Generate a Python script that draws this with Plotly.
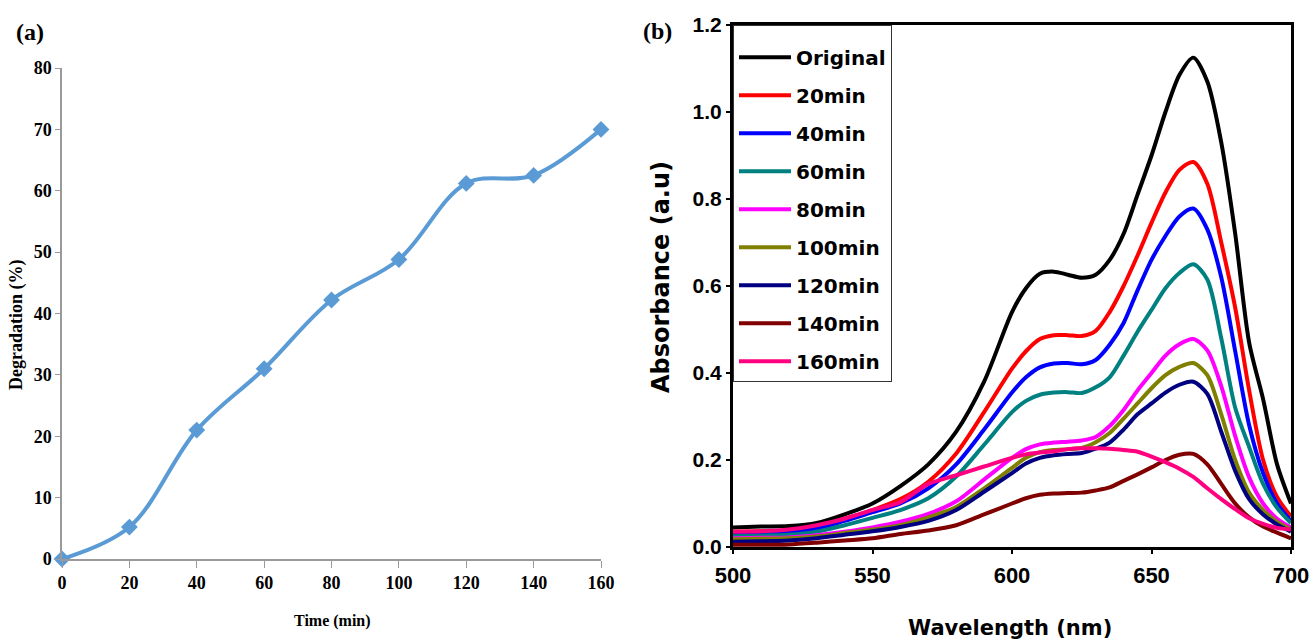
import plotly.graph_objects as go

W, H = 1311, 641

# ---- (a) degradation vs time ----
time_min = [0, 20, 40, 60, 80, 100, 120, 140, 160]
degradation = [0, 5.2, 21.0, 31.0, 42.2, 48.8, 61.2, 62.5, 70.0]

# ---- (b) absorption spectra ----
wavelength = [500, 510, 520, 530, 540, 550, 560, 570, 580, 590, 600, 605, 610, 615,
              620, 625, 630, 635, 640, 645, 650, 655, 660, 665, 670, 675, 680, 685,
              690, 695, 700]

abs_original = [0.045, 0.047, 0.048, 0.055, 0.075, 0.100, 0.140, 0.190, 0.265, 0.380,
                0.540, 0.595, 0.628, 0.633, 0.626, 0.619, 0.626, 0.660, 0.720, 0.810,
                0.900, 1.000, 1.085, 1.125, 1.070, 0.930, 0.720, 0.470, 0.340, 0.190,
                0.100]
abs_20 = [0.035, 0.036, 0.038, 0.045, 0.065, 0.085, 0.110, 0.150, 0.215, 0.310,
          0.410, 0.450, 0.478, 0.487, 0.487, 0.485, 0.497, 0.540, 0.600, 0.670,
          0.745, 0.815, 0.867, 0.885, 0.835, 0.700, 0.550, 0.360, 0.200, 0.115,
          0.070]
abs_40 = [0.030, 0.031, 0.034, 0.042, 0.060, 0.080, 0.100, 0.135, 0.190, 0.270,
          0.355, 0.390, 0.413, 0.422, 0.423, 0.420, 0.430, 0.465, 0.515, 0.590,
          0.660, 0.715, 0.760, 0.778, 0.730, 0.620, 0.450, 0.280, 0.170, 0.100,
          0.060]
abs_60 = [0.025, 0.026, 0.028, 0.035, 0.050, 0.067, 0.085, 0.112, 0.162, 0.235,
          0.310, 0.336, 0.350, 0.355, 0.356, 0.354, 0.367, 0.390, 0.440, 0.495,
          0.545, 0.595, 0.630, 0.650, 0.615, 0.480, 0.320, 0.230, 0.145, 0.090,
          0.055]
abs_80 = [0.020, 0.021, 0.022, 0.027, 0.035, 0.045, 0.058, 0.076, 0.105, 0.155,
          0.205, 0.225, 0.236, 0.240, 0.242, 0.245, 0.253, 0.278, 0.315, 0.360,
          0.400, 0.440, 0.466, 0.478, 0.452, 0.370, 0.255, 0.160, 0.100, 0.065,
          0.045]
abs_100 = [0.018, 0.019, 0.020, 0.024, 0.032, 0.040, 0.050, 0.068, 0.092, 0.135,
           0.182, 0.205, 0.218, 0.223, 0.225, 0.228, 0.241, 0.262, 0.295, 0.330,
           0.365, 0.395, 0.414, 0.423, 0.395, 0.305, 0.200, 0.125, 0.085, 0.058,
           0.040]
abs_120 = [0.012, 0.013, 0.015, 0.020, 0.028, 0.036, 0.046, 0.060, 0.085, 0.127,
           0.170, 0.192, 0.205, 0.211, 0.214, 0.216, 0.226, 0.240, 0.270, 0.305,
           0.330, 0.355, 0.373, 0.380, 0.352, 0.265, 0.175, 0.110, 0.075, 0.052,
           0.035]
abs_140 = [0.005, 0.005, 0.006, 0.010, 0.015, 0.020, 0.030, 0.038, 0.050, 0.075,
           0.100, 0.112, 0.120, 0.123, 0.124, 0.125, 0.130, 0.137, 0.152, 0.167,
           0.183, 0.200, 0.212, 0.214, 0.190, 0.145, 0.100, 0.068, 0.047, 0.033,
           0.020]
abs_160 = [0.035, 0.036, 0.040, 0.050, 0.065, 0.085, 0.103, 0.145, 0.165, 0.185,
           0.205, 0.213, 0.217, 0.220, 0.225, 0.227, 0.227, 0.226, 0.223, 0.219,
           0.208, 0.195, 0.180, 0.161, 0.135, 0.110, 0.087, 0.066, 0.053, 0.044,
           0.040]

series_names = ["Original", "20min", "40min", "60min", "80min",
                "100min", "120min", "140min", "160min"]
series_values = [abs_original, abs_20, abs_40, abs_60, abs_80,
                 abs_100, abs_120, abs_140, abs_160]
series_colors = ["#000000", "#FF0000", "#0000FF", "#008080", "#FF00FF",
                 "#808000", "#000080", "#800000", "#FF0080"]

SERIF = "Liberation Serif, Times New Roman, serif"
SANS = "Liberation Sans, Arial, sans-serif"
WIDE = "DejaVu Sans, Verdana, sans-serif"


def px_x(p):
    return p / W


def px_y(p):
    return 1 - p / H


fig = go.Figure()

fig.add_trace(go.Scatter(
    x=time_min, y=degradation, mode="lines+markers",
    line=dict(color="#5B9BD5", width=4, shape="spline", smoothing=1),
    marker=dict(symbol="diamond", size=13, color="#5B9BD5"),
    showlegend=False, cliponaxis=False,
    xaxis="x", yaxis="y",
))

for name, vals, col in zip(series_names, series_values, series_colors):
    fig.add_trace(go.Scatter(
        x=wavelength, y=vals, mode="lines", name=name,
        line=dict(color=col, width=4, shape="spline", smoothing=0.8),
        xaxis="x2", yaxis="y2", legendgroup=name,
    ))

grey = "#9a9a9a"
fig.update_layout(
    template="none",
    width=W, height=H,
    margin=dict(l=0, r=0, t=0, b=0, autoexpand=False),
    paper_bgcolor="white", plot_bgcolor="white",
    xaxis=dict(
        domain=[px_x(62), px_x(601)], range=[0, 160], anchor="y",
        tickvals=time_min, showline=True, linecolor=grey, linewidth=1.5,
        ticks="outside", ticklen=7, tickcolor=grey, tickwidth=1,
        showgrid=False, zeroline=False, automargin=False,
        tickfont=dict(family=SERIF, size=18, color="#000000", weight="bold"),
    ),
    yaxis=dict(
        domain=[px_y(559), px_y(68)], range=[0, 80], anchor="x",
        dtick=10, showline=True, linecolor=grey, linewidth=1.5,
        ticks="outside", ticklen=5, tickcolor=grey, tickwidth=1,
        showgrid=False, zeroline=False, automargin=False,
        tickfont=dict(family=SERIF, size=18, color="#000000", weight="bold"),
    ),
    xaxis2=dict(
        domain=[px_x(733), px_x(1291)], range=[500, 700], anchor="y2",
        dtick=50, showline=True, mirror=True, linecolor="#000000", linewidth=3,
        ticks="outside", ticklen=4, tickwidth=2, tickcolor="#000000",
        showgrid=False, zeroline=False, automargin=False, ticklabelstandoff=3,
        tickfont=dict(family=SANS, size=22, color="#000000", weight="bold"),
    ),
    yaxis2=dict(
        domain=[px_y(547), px_y(25)], range=[0, 1.2], anchor="x2",
        tickvals=[0, 0.2, 0.4, 0.6, 0.8, 1.0, 1.2],
        ticktext=["0.0", "0.2", "0.4", "0.6", "0.8", "1.0", "1.2"],
        showline=True, mirror=True, linecolor="#000000", linewidth=3,
        ticks="outside", ticklen=4, tickwidth=2, tickcolor="#000000",
        showgrid=False, zeroline=False, automargin=False,
        tickfont=dict(family=SANS, size=21, color="#000000", weight="bold"),
    ),
    legend=dict(
        x=px_x(733), y=px_y(25), xanchor="left", yanchor="top",
        bgcolor="white", bordercolor="#333333", borderwidth=1,
        font=dict(family=WIDE, size=20, color="#000000", weight="bold"),
        tracegroupgap=9, itemwidth=52,
        title=dict(text=" ", font=dict(size=9)),
    ),
)

annotations = [
    dict(text="(a)", x=px_x(14), y=px_y(32), xanchor="left", yanchor="middle",
         font=dict(family=SERIF, size=24, color="#000000", weight="bold")),
    dict(text="(b)", x=px_x(641), y=px_y(31), xanchor="left", yanchor="middle",
         font=dict(family=SERIF, size=24, color="#000000", weight="bold")),
    dict(text="Degradation (%)", x=px_x(17), y=px_y(325), textangle=-90,
         xanchor="center", yanchor="middle",
         font=dict(family=SERIF, size=18, color="#000000", weight="bold")),
    dict(text="Time (min)", x=px_x(332), y=px_y(621),
         xanchor="center", yanchor="middle",
         font=dict(family=SERIF, size=16, color="#000000", weight="bold")),
    dict(text="Absorbance (a.u)", x=px_x(661), y=px_y(277), textangle=-90,
         xanchor="center", yanchor="middle",
         font=dict(family=WIDE, size=24, color="#000000", weight="bold")),
    dict(text="Wavelength (nm)", x=px_x(1010), y=px_y(628),
         xanchor="center", yanchor="middle",
         font=dict(family=WIDE, size=21, color="#000000", weight="bold")),
]
for a in annotations:
    a.update(xref="paper", yref="paper", showarrow=False)
fig.update_layout(annotations=annotations)

fig.write_html("out.html")
